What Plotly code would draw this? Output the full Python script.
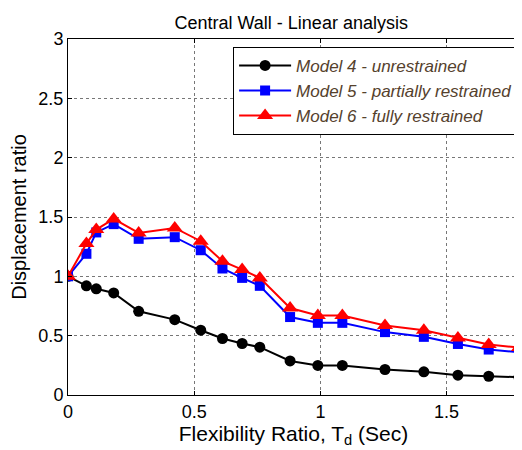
import plotly.graph_objects as go

x_vals = [0, 0.073, 0.112, 0.181, 0.28, 0.423, 0.526, 0.612, 0.69, 0.76, 0.88,
          0.99, 1.087, 1.256, 1.41, 1.545, 1.667, 1.787]
model4 = [1.0, 0.92, 0.895, 0.86, 0.705, 0.635, 0.546, 0.476, 0.434, 0.403, 0.287,
          0.249, 0.249, 0.215, 0.195, 0.167, 0.158, 0.15]
model5 = [1.0, 1.19, 1.37, 1.44, 1.316, 1.33, 1.22, 1.066, 0.987, 0.92, 0.657,
          0.608, 0.608, 0.53, 0.49, 0.43, 0.383, 0.36]
model6 = [1.0, 1.276, 1.394, 1.484, 1.366, 1.408, 1.296, 1.127, 1.057, 0.987, 0.733,
          0.67, 0.67, 0.585, 0.546, 0.48, 0.425, 0.40]
names = ["Model 4 - unrestrained", "Model 5 - partially restrained", "Model 6 - fully restrained"]

font_fam = "Liberation Sans, Arial, sans-serif"

fig = go.Figure()
fig.add_trace(go.Scatter(x=x_vals, y=model4, name=names[0], mode="lines+markers",
                         line=dict(color="black", width=2),
                         marker=dict(symbol="circle", size=11, color="black")))
fig.add_trace(go.Scatter(x=x_vals, y=model5, name=names[1], mode="lines+markers",
                         line=dict(color="blue", width=2),
                         marker=dict(symbol="square", size=10, color="blue")))
fig.add_trace(go.Scatter(x=x_vals, y=model6, name=names[2], mode="lines+markers",
                         line=dict(color="red", width=2),
                         marker=dict(symbol="triangle-up", size=14, color="red")))

axis_common = dict(showline=True, linecolor="black", linewidth=1, mirror="ticks",
                   ticks="inside", ticklen=4, tickcolor="black",
                   showgrid=True, gridcolor="#777777", griddash="dot", gridwidth=1,
                   zeroline=False, automargin=False,
                   tickfont=dict(size=18, color="black", family=font_fam))

fig.update_layout(
    width=514, height=442,
    margin=dict(l=60, r=3, t=31, b=54.5),
    paper_bgcolor="white", plot_bgcolor="white",
    title=dict(text="Central Wall - Linear analysis", x=0.551, xanchor="center",
               y=0.967, yanchor="middle",
               font=dict(size=18, color="black", family=font_fam)),
    xaxis=dict(range=[0, 1.787], tickvals=[0, 0.5, 1, 1.5], ticktext=["0", "0.5", "1", "1.5"],
               title=dict(text="Flexibility Ratio, T<sub>d</sub> (Sec)", standoff=2,
                          font=dict(size=21, color="black", family=font_fam)),
               **axis_common),
    yaxis=dict(range=[0, 3], tickvals=[0, 0.5, 1, 1.5, 2, 2.5, 3],
               ticktext=["0", "0.5", "1", "1.5", "2", "2.5", "3"],
               title=dict(text="Displacement ratio", standoff=6,
                          font=dict(size=20, color="black", family=font_fam)),
               **axis_common),
    legend=dict(x=0.998, y=0.978, xanchor="right", yanchor="top",
                bgcolor="white", bordercolor="black", borderwidth=1,
                itemwidth=52,
                font=dict(size=17, color="rgb(85,65,45)", family=font_fam, style="italic"),
                tracegroupgap=0),
    showlegend=True,
)

fig.write_html("out.html")
